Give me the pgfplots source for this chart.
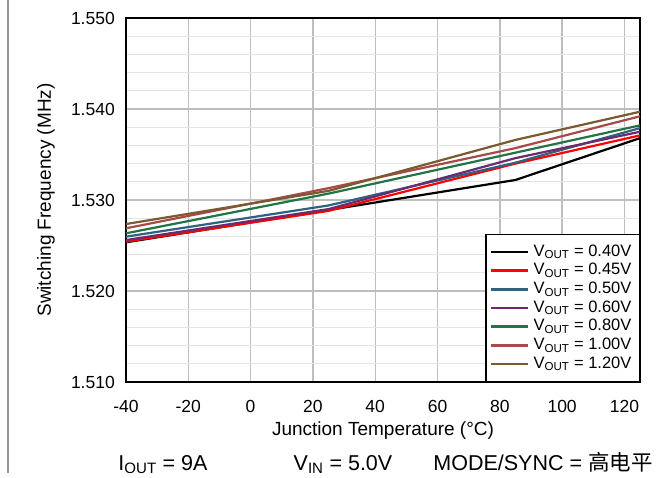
\documentclass[border=0pt]{standalone}
\usepackage{fontspec}
\setmainfont{Liberation Sans}
\newfontfamily\cjk{Noto Sans CJK SC}
\usepackage{pgfplots}
\pgfplotsset{compat=1.18}
\definecolor{cA}{RGB}{0,0,0}
\definecolor{cB}{RGB}{255,0,0}
\definecolor{cC}{RGB}{46,98,128}
\definecolor{cD}{RGB}{106,44,110}
\definecolor{cE}{RGB}{35,115,71}
\definecolor{cF}{RGB}{168,74,74}
\definecolor{cG}{RGB}{122,90,46}
\begin{document}
\begin{tikzpicture}[x=1pt,y=1pt]
\useasboundingbox (0,0) rectangle (672,477);
\draw[color={rgb,255:red,150;green,150;blue,150}, line width=1.5pt] (8,477) -- (8,4);
\begin{axis}[
  at={(126pt,95pt)}, anchor=south west,
  scale only axis, width=514pt, height=364pt,
  xmin=-40, xmax=125, ymin=1.510, ymax=1.550,
  xtick={-40,-20,0,20,40,60,80,100,120},
  xticklabels={-40,-20,0,20,40,60,80,100,120},
  ytick={1.51,1.52,1.53,1.54,1.55},
  yticklabels={1.510,1.520,1.530,1.540,1.550},
  minor ytick={1.512,1.514,1.516,1.518,1.522,1.524,1.526,1.528,1.532,1.534,1.536,1.538,1.542,1.544,1.546,1.548},
  grid=both,
  major grid style={draw={rgb,255:red,190;green,190;blue,190}, line width=1.4pt},
  minor grid style={draw={rgb,255:red,228;green,228;blue,228}, line width=1pt},
  major tick length=0pt, minor tick length=0pt,
  axis line style={line width=2.2pt},
  ticklabel style={font=\fontsize{17.5}{20}\selectfont},
  xticklabel style={anchor=base, inner sep=0pt, yshift=-30pt},
  yticklabel style={anchor=east, inner sep=0pt, xshift=-11pt},
  legend style={at={(1,0)}, anchor=south east, draw=black, line width=1.2pt,
    font=\fontsize{16.5}{19}\selectfont, row sep=0pt, inner xsep=4pt, inner ysep=8pt,
    nodes={text height=12pt, text depth=3.5pt, inner ysep=1.6pt, inner xsep=4pt}},
  legend cell align=left,
  legend image code/.code={\draw[#1, line width=2.5pt] (5pt,0pt) -- (42pt,0pt);},
  every axis plot/.append style={line width=2.2pt},
]
\addplot[cA] coordinates {(-40,1.52535) (25,1.5289) (85,1.5322) (125,1.5368)};
\addplot[cB] coordinates {(-40,1.52542) (25,1.5288) (85,1.5340) (125,1.5371)};
\addplot[cC] coordinates {(-40,1.52597) (25,1.5294) (85,1.5341) (125,1.5379)};
\addplot[cD] coordinates {(-40,1.5256) (25,1.5290) (85,1.5346) (125,1.5375)};
\addplot[cE] coordinates {(-40,1.52634) (25,1.5307) (85,1.5352) (125,1.5382)};
\addplot[cF] coordinates {(-40,1.52689) (25,1.5313) (85,1.5357) (125,1.5392)};
\addplot[cG] coordinates {(-40,1.52736) (25,1.5310) (85,1.5366) (125,1.5397)};
\legend{V\textsubscript{OUT} = 0.40V, V\textsubscript{OUT} = 0.45V, V\textsubscript{OUT} = 0.50V, V\textsubscript{OUT} = 0.60V, V\textsubscript{OUT} = 0.80V, V\textsubscript{OUT} = 1.00V, V\textsubscript{OUT} = 1.20V}
\end{axis}
\node[font=\fontsize{19}{22}\selectfont, anchor=base] at (383,42) {Junction Temperature (\textdegree C)};
\node[font=\fontsize{19}{22}\selectfont, rotate=90] at (46,277) {Switching Frequency (MHz)};
\node[font=\fontsize{21.5}{25}\selectfont, anchor=base, inner sep=0pt] at (163,7) {I\textsubscript{OUT} = 9A};
\node[font=\fontsize{21.5}{25}\selectfont, anchor=base, inner sep=0pt] at (343,7) {V\textsubscript{IN} = 5.0V};
\node[font=\fontsize{21.5}{25}\selectfont, anchor=base, inner sep=0pt] at (543,7) {MODE/SYNC = {\cjk 高电平}};
\end{tikzpicture}
\end{document}
